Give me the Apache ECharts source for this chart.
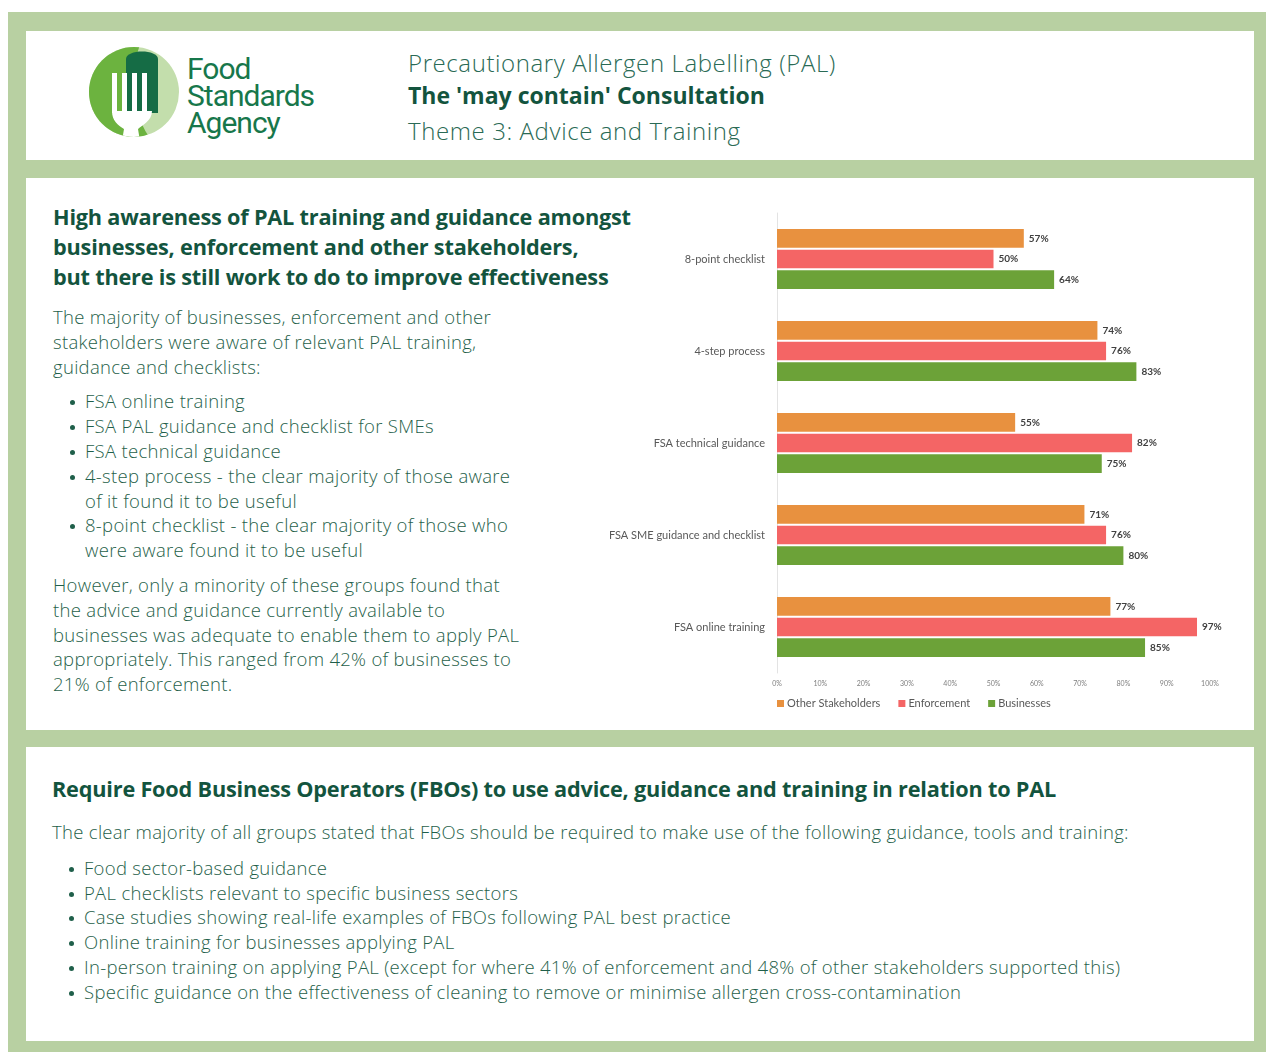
<!DOCTYPE html>
<html>
<head>
<meta charset="utf-8">
<title>PAL Consultation - Theme 3</title>
<script src="https://cdn.jsdelivr.net/npm/echarts@6/dist/echarts.min.js"></script>
<style>
  html, body { margin: 0; padding: 0; background: #fff; }
  body { width: 1266px; height: 1052px; position: relative; overflow: hidden;
         font-family: "Open Sans", "Noto Sans", sans-serif; color: #1f5f4a; }
  .frame { position: absolute; left: 8px; top: 12px; width: 1258px; height: 1040px; background: #b8d0a2; }
  .panel { position: absolute; left: 26px; width: 1228px; background: #fff; }
  .abs { position: absolute; white-space: nowrap; }
  .head1 { font-size: 24px; font-weight: 300; color: #2a6a55; letter-spacing: 0.6px; }
  .head2 { font-size: 23px; font-weight: 700; color: #13543e; }
  h2 { margin: 0; font-size: 21.7px; font-weight: 700; color: #13543e; line-height: 30px; letter-spacing: -0.2px; }
  p { margin: 0; font-size: 18.5px; font-weight: 300; line-height: 24.8px; letter-spacing: 0.3px; }
  ul { margin: 0; padding: 0; list-style: none; }
  li { position: relative; font-size: 18.5px; font-weight: 300; line-height: 24.8px; padding-left: 32px; letter-spacing: 0.3px; }
  li::before { content: ""; position: absolute; left: 17px; top: 11px; width: 5px; height: 5px; border-radius: 50%; background: #1f5f4a; }
  .logo-text { font-family: Roboto, "Open Sans", sans-serif; font-size: 30px; line-height: 27px; color: #17774b; letter-spacing: -1px; }
  #chart { position: absolute; left: 590px; top: 195px; width: 660px; height: 530px; }
</style>
</head>
<body>
<div class="frame"></div>
<div class="panel" style="top:31px;height:129px;"></div>
<div class="panel" style="top:178px;height:552px;"></div>
<div class="panel" style="top:747px;height:294px;"></div>

<!-- logo -->
<svg class="abs" style="left:88px;top:45px;" width="96" height="96" viewBox="0 0 96 96">
  <defs><clipPath id="c"><circle cx="46" cy="47" r="45"/></clipPath></defs>
  <g clip-path="url(#c)">
    <rect x="0" y="0" width="96" height="96" fill="#c3deac"/>
    <path d="M0,0 L52,0 C40,30 44,70 64,96 L0,96 Z" fill="#6cb33f"/>
    <path d="M38,14 C38,4 70,4 70,14 L70,68 L38,68 Z" fill="#156c45"/>
    <rect x="24" y="28" width="5" height="40" fill="#fff"/>
    <rect x="34" y="28" width="5" height="40" fill="#fff"/>
    <rect x="44" y="28" width="5" height="40" fill="#fff"/>
    <rect x="54" y="28" width="5" height="40" fill="#fff"/>
    <path d="M24,66 L64,66 C64,76 54,80 50,84 L52,96 L34,96 L36,84 C30,80 24,76 24,66 Z" fill="#fff"/>
  </g>
</svg>
<div class="abs logo-text" style="left:187px;top:55px;">Food<br>Standards<br>Agency</div>

<div class="abs head1" style="left:408px;top:46px;">Precautionary Allergen Labelling (PAL)</div>
<div class="abs head2" style="left:408px;top:79px;">The 'may contain' Consultation</div>
<div class="abs head1" style="left:408px;top:114px;">Theme 3: Advice and Training</div>

<!-- middle section text -->
<div class="abs" style="left:53px;top:202px;">
  <h2>High awareness of PAL training and guidance amongst<br>businesses, enforcement and other stakeholders,<br>but there is still work to do to improve effectiveness</h2>
</div>
<div class="abs" style="left:53px;top:305px;">
  <p>The majority of businesses, enforcement and other<br>stakeholders were aware of relevant PAL training,<br>guidance and checklists:</p>
  <ul style="margin:10px 0 10px 0;">
    <li>FSA online training</li>
    <li>FSA PAL guidance and checklist for SMEs</li>
    <li>FSA technical guidance</li>
    <li>4-step process - the clear majority of those aware<br>of it found it to be useful</li>
    <li>8-point checklist - the clear majority of those who<br>were aware found it to be useful</li>
  </ul>
  <p>However, only a minority of these groups found that<br>the advice and guidance currently available to<br>businesses was adequate to enable them to apply PAL<br>appropriately. This ranged from 42% of businesses to<br>21% of enforcement.</p>
</div>

<!-- bottom section text -->
<div class="abs" style="left:52px;top:774px;">
  <h2>Require Food Business Operators (FBOs) to use advice, guidance and training in relation to PAL</h2>
</div>
<div class="abs" style="left:52px;top:820px;">
  <p>The clear majority of all groups stated that FBOs should be required to make use of the following guidance, tools and training:</p>
  <ul style="margin-top:11px;">
    <li>Food sector-based guidance</li>
    <li>PAL checklists relevant to specific business sectors</li>
    <li>Case studies showing real-life examples of FBOs following PAL best practice</li>
    <li>Online training for businesses applying PAL</li>
    <li>In-person training on applying PAL (except for where 41% of enforcement and 48% of other stakeholders supported this)</li>
    <li>Specific guidance on the effectiveness of cleaning to remove or minimise allergen cross-contamination</li>
  </ul>
</div>

<div id="chart"></div>

<script>
// categories listed bottom to top (ECharts category axis starts at the bottom)
const categories = ['FSA online training', 'FSA SME guidance and checklist', 'FSA technical guidance', '4-step process', '8-point checklist'];
const businesses = [85, 80, 75, 83, 64];
const enforcement = [97, 76, 82, 76, 50];
const otherStakeholders = [77, 71, 55, 74, 57];
const seriesNames = ['Other Stakeholders', 'Enforcement', 'Businesses'];

const chart = echarts.init(document.getElementById('chart'));

function barSeries(name, data, color) {
  return {
    name: name,
    type: 'bar',
    data: data,
    barGap: '10%',
    barCategoryGap: '35%',
    itemStyle: { color: color },
    label: {
      show: true,
      position: 'right',
      distance: 5,
      formatter: '{c}%',
      fontSize: 10,
      fontWeight: 'bold',
      color: '#404040',
      fontFamily: 'Lato, sans-serif'
    }
  };
}

chart.setOption({
  animation: false,
  textStyle: { fontFamily: 'Lato, sans-serif' },
  grid: { left: 187, top: 18, width: 433, height: 460 },
  legend: {
    data: seriesNames,
    left: 182,
    top: 498,
    icon: 'rect',
    itemWidth: 7,
    itemHeight: 7,
    itemGap: 18,
    textStyle: { fontSize: 11, color: '#595959', padding: [0, 0, 0, -2] }
  },
  xAxis: {
    type: 'value',
    min: 0,
    max: 100,
    interval: 10,
    axisLine: { show: false },
    axisTick: { show: false },
    splitLine: { show: false },
    axisLabel: { formatter: '{value}%', fontSize: 7, color: '#7f7f7f', margin: 7 }
  },
  yAxis: {
    type: 'category',
    data: categories,
    axisLine: { show: true, lineStyle: { color: '#e3e3e3', width: 1 } },
    axisTick: { show: false },
    axisLabel: { fontSize: 11, color: '#595959', margin: 12 }
  },
  series: [
    barSeries('Other Stakeholders', otherStakeholders, '#e8913f'),
    barSeries('Enforcement', enforcement, '#f46565'),
    barSeries('Businesses', businesses, '#6ca238')
  ]
});
</script>
</body>
</html>
